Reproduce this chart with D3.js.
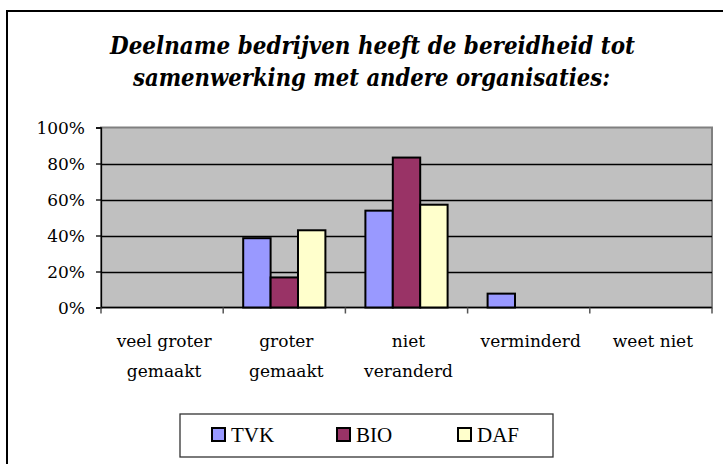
<!DOCTYPE html>
<html lang="nl">
<head>
    <meta charset="UTF-8">
    <title>Deelname bedrijven - bereidheid tot samenwerking</title>
    <script src="https://d3js.org/d3.v7.min.js"></script>
    <style>
        body {
            margin: 0;
            padding: 0;
            background-color: #fff;
        }
        svg {
            display: block;
        }
    </style>
</head>
<body>
    <svg id="chart"></svg>

    <script>
        // Data
        const categories = [
            ["veel groter", "gemaakt"],
            ["groter", "gemaakt"],
            ["niet", "veranderd"],
            ["verminderd"],
            ["weet niet"]
        ];
        const seriesNames = ["TVK", "BIO", "DAF"];
        const seriesColors = ["#9999ff", "#993366", "#ffffcc"];
        const tvkValues = [0, 38.5, 53.8, 7.7, 0];
        const bioValues = [0, 16.7, 83.3, 0, 0];
        const dafValues = [0, 42.9, 57.1, 0, 0];
        const yTicks = [0, 20, 40, 60, 80, 100];
        const titleLines = [
            "Deelname bedrijven heeft de bereidheid tot",
            "samenwerking met andere organisaties:"
        ];

        const allValues = [tvkValues, bioValues, dafValues];

        const width = 723;
        const height = 464;
        const serif = "'DejaVu Serif', serif";

        const svg = d3.select("#chart")
            .attr("width", width)
            .attr("height", height);

        // Outer chart frame (runs off the right and bottom edge)
        svg.append("rect")
            .attr("x", 7)
            .attr("y", 11)
            .attr("width", 740)
            .attr("height", 480)
            .attr("fill", "#fff")
            .attr("stroke", "#000")
            .attr("stroke-width", 2);

        // Title
        const titleWidths = [525, 477];
        const titleY = [54, 86];
        svg.selectAll(".title")
            .data(titleLines)
            .enter().append("text")
            .attr("class", "title")
            .attr("x", (d, i) => i === 0 ? 110 : 133)
            .attr("y", (d, i) => titleY[i])
            .style("font-family", serif)
            .style("font-weight", "bold")
            .style("font-style", "italic")
            .style("font-size", "24px")
            .attr("textLength", (d, i) => titleWidths[i])
            .attr("lengthAdjust", "spacingAndGlyphs")
            .text(d => d);

        // Plot area
        const plot = { left: 101, top: 127.5, right: 712, bottom: 307.5 };

        const x = d3.scaleBand()
            .domain(d3.range(categories.length))
            .range([plot.left, plot.right])
            .padding(0);

        const xInner = d3.scaleBand()
            .domain(d3.range(seriesNames.length))
            .range([0, x.bandwidth()])
            .paddingInner(0)
            .paddingOuter(0.73);

        const y = d3.scaleLinear()
            .domain([0, 100])
            .range([plot.bottom, plot.top]);

        const g = svg.append("g");

        // Plot background
        g.append("rect")
            .attr("x", plot.left)
            .attr("y", plot.top)
            .attr("width", plot.right - plot.left)
            .attr("height", plot.bottom - plot.top)
            .attr("fill", "#c0c0c0")
            .attr("stroke", "#808080")
            .attr("stroke-width", 2);

        // Gridlines
        g.selectAll(".grid")
            .data(yTicks.filter(t => t > 0 && t < 100))
            .enter().append("line")
            .attr("x1", plot.left)
            .attr("x2", plot.right)
            .attr("y1", d => Math.round(y(d)) + 0.5)
            .attr("y2", d => Math.round(y(d)) + 0.5)
            .attr("stroke", "#000")
            .attr("stroke-width", 1.3);

        // Y axis
        const yAxis = d3.axisLeft(y)
            .tickValues(yTicks)
            .tickFormat(d => d + "%")
            .tickSize(5)
            .tickPadding(11);

        const yAxisG = g.append("g")
            .attr("transform", `translate(${plot.left},0)`)
            .call(yAxis);
        yAxisG.select(".domain").attr("stroke", "#000").attr("stroke-width", 1.3);
        yAxisG.selectAll(".tick line").attr("stroke", "#000").attr("stroke-width", 1.3);
        yAxisG.selectAll(".tick text")
            .style("font-family", serif)
            .style("font-size", "17px")
            .attr("fill", "#000")
            .attr("dy", "0.36em");

        // X axis line and ticks at category boundaries
        g.append("line")
            .attr("x1", plot.left)
            .attr("x2", plot.right)
            .attr("y1", plot.bottom)
            .attr("y2", plot.bottom)
            .attr("stroke", "#000")
            .attr("stroke-width", 1.5);

        const boundaries = d3.range(categories.length + 1)
            .map(i => i < categories.length ? x(i) : x(i - 1) + x.bandwidth());
        g.selectAll(".xtick")
            .data(boundaries)
            .enter().append("line")
            .attr("x1", d => d)
            .attr("x2", d => d)
            .attr("y1", plot.bottom)
            .attr("y2", plot.bottom + 6)
            .attr("stroke", "#555")
            .attr("stroke-width", 1.5);

        // Bars
        const barGroups = g.selectAll(".series")
            .data(allValues)
            .enter().append("g")
            .attr("class", "series");

        barGroups.selectAll("rect")
            .data((vals, si) => vals.map((v, ci) => ({ v, ci, si })).filter(d => d.v > 0))
            .enter().append("rect")
            .attr("x", d => x(d.ci) + xInner(d.si))
            .attr("y", d => y(d.v))
            .attr("width", xInner.bandwidth())
            .attr("height", d => y(0) - y(d.v))
            .attr("fill", d => seriesColors[d.si])
            .attr("stroke", "#000")
            .attr("stroke-width", 2);

        // Category labels
        const catLabels = g.selectAll(".cat")
            .data(categories)
            .enter().append("text")
            .style("font-family", serif)
            .style("font-size", "17px")
            .attr("text-anchor", "middle")
            .attr("transform", (d, i) => `translate(${x(i) + x.bandwidth() / 2 + 2},347)`);

        catLabels.selectAll("tspan")
            .data(d => d)
            .enter().append("tspan")
            .attr("x", 0)
            .attr("y", (d, i) => i * 30)
            .text(d => d);

        // Legend
        const legend = svg.append("g");
        legend.append("rect")
            .attr("x", 180)
            .attr("y", 414)
            .attr("width", 373)
            .attr("height", 43)
            .attr("fill", "#fff")
            .attr("stroke", "#333")
            .attr("stroke-width", 1.3);

        const legendX = [212, 337, 458];
        const items = legend.selectAll(".item")
            .data(seriesNames)
            .enter().append("g")
            .attr("transform", (d, i) => `translate(${legendX[i]},428)`);

        items.append("rect")
            .attr("width", 13)
            .attr("height", 13)
            .attr("fill", (d, i) => seriesColors[i])
            .attr("stroke", "#000")
            .attr("stroke-width", 2);

        items.append("text")
            .attr("x", 19)
            .attr("y", 14)
            .style("font-family", "'Liberation Serif', 'DejaVu Serif', serif")
            .style("font-size", "21px")
            .text(d => d);
    </script>
</body>
</html>
